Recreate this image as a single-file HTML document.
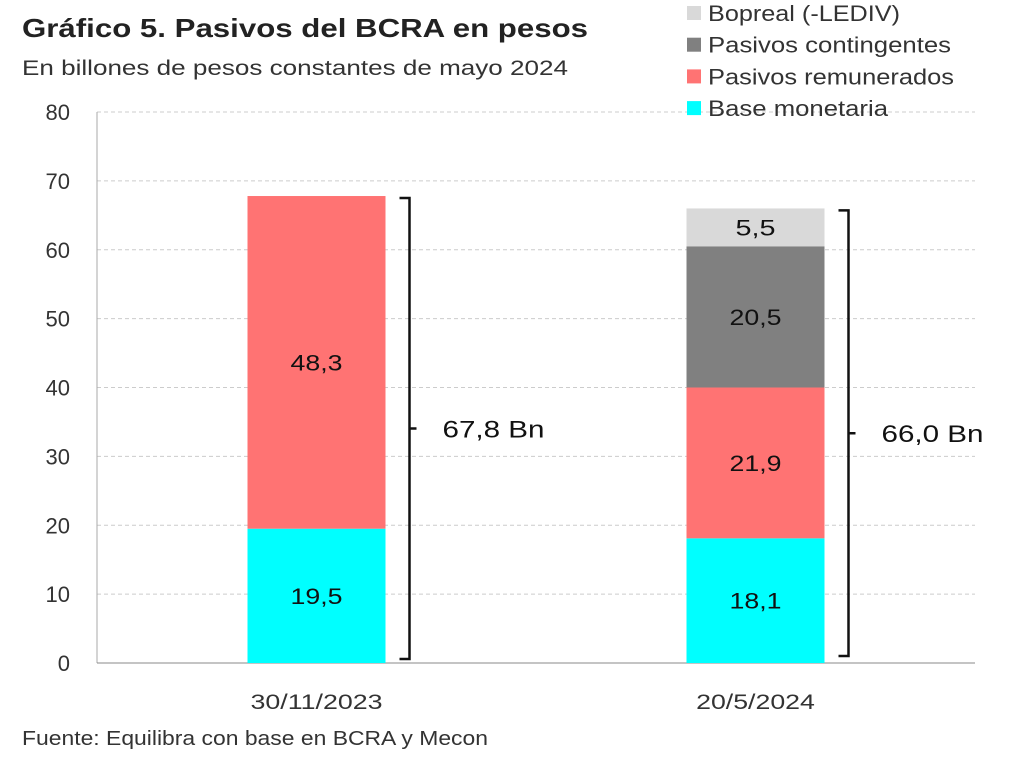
<!DOCTYPE html>
<html><head><meta charset="utf-8"><style>
body{margin:0;background:#fff;font-family:"Liberation Sans",sans-serif}
</style></head><body>
<svg id="c" width="1022" height="775" style="display:block">
<text x="22" y="37" font-size="26" font-weight="bold" fill="#222" textLength="566" lengthAdjust="spacingAndGlyphs">Gráfico 5. Pasivos del BCRA en pesos</text>
<text x="22" y="75" font-size="21" fill="#333" textLength="546" lengthAdjust="spacingAndGlyphs">En billones de pesos constantes de mayo 2024</text>
<text x="22" y="745" font-size="20" fill="#333" textLength="466" lengthAdjust="spacingAndGlyphs">Fuente: Equilibra con base en BCRA y Mecon</text>
<g id="grid"></g><g id="bars"></g><g id="legend"></g>
</svg>
<script>
const categories=["30/11/2023","20/5/2024"];
const seriesNames=["Base monetaria","Pasivos remunerados","Pasivos contingentes","Bopreal (-LEDIV)"];
const baseMonetaria=[19.5,18.1];
const pasivosRemunerados=[48.3,21.9];
const pasivosContingentes=[0,20.5];
const bopreal=[0,5.5];
const totals=["67,8 Bn","66,0 Bn"];
const yTicks=[0,10,20,30,40,50,60,70,80];
const colors=["#00ffff","#ff7373","#808080","#d9d9d9"];
const NS="http://www.w3.org/2000/svg";
const y0=663,y1=112,x0=97,x1=975;
const y=v=>y0-(v/80)*(y0-y1);
const bandW=(x1-x0)/categories.length;
const xc=i=>x0+bandW*(i+0.5);
const barW=138;
function mk(t,a,p){const e=document.createElementNS(NS,t);for(const k in a)e.setAttribute(k,a[k]);p.appendChild(e);return e;}
const grid=document.getElementById('grid');
yTicks.forEach(t=>{
 if(t>0){const l=mk('line',{x1:x0,x2:x1,y1:y(t),y2:y(t),stroke:'#ccc','stroke-dasharray':'4,3'},grid);
 
 }
 const tx=mk('text',{x:70,y:y(t)+8,'font-size':22,'text-anchor':'end',fill:'#333'},grid);tx.textContent=t;
 
 
});
const ax=mk('line',{x1:x0,x2:x0,y1:y1,y2:y0,stroke:'#aaa'},grid);


const bx=mk('line',{x1:x0,x2:x1,y1:y0,y2:y0,stroke:'#888'},grid);


const bars=document.getElementById('bars');
const series=[baseMonetaria,pasivosRemunerados,pasivosContingentes,bopreal];
categories.forEach((c,i)=>{
 let cum=0;
 series.forEach((s,k)=>{
  const v=s[i];if(!v)return;
  const r=mk('rect',{x:xc(i)-barW/2,y:y(cum+v),width:barW,height:y(cum)-y(cum+v),fill:colors[k]},bars);
  
  
  const t=mk('text',{x:xc(i),y:(y(cum)+y(cum+v))/2+8,'font-size':22,'text-anchor':'middle',fill:'#111',textLength:52,lengthAdjust:'spacingAndGlyphs'},bars);
  t.textContent=v.toFixed(1).replace('.',',');
  if(t.textContent.length<4)t.setAttribute('textLength',40);
  
  
  cum+=v;
 });
 const xl=mk('text',{x:xc(i),y:709,'font-size':21,'text-anchor':'middle',fill:'#333',textLength:c.length*13.2,lengthAdjust:'spacingAndGlyphs'},bars);xl.textContent=c;
 
 
 const bxp=xc(i)+barW/2+24, top=y(cum)+2, bot=y0-4-i*3, mid=(top+bot)/2;
 const br=mk('path',{d:`M${bxp-10},${top} H${bxp} V${bot} H${bxp-10} M${bxp},${mid} H${bxp+7}`,fill:'none',stroke:'#111','stroke-width':2.5},bars);
 
 
 const tl=mk('text',{x:bxp+33,y:mid+9,'font-size':24,fill:'#111',textLength:102,lengthAdjust:'spacingAndGlyphs'},bars);tl.textContent=totals[i];
 
 
});
const lg=document.getElementById('legend');
const legendLen={3:192,2:243,1:246,0:180};
[3,2,1,0].forEach((k,j)=>{
 const cy=13+j*31.7;
 const r=mk('rect',{x:687,y:cy-7,width:14,height:14,fill:colors[k]},lg);
 
 
 const t=mk('text',{x:708,y:cy+8,'font-size':22,fill:'#333',textLength:legendLen[k],lengthAdjust:'spacingAndGlyphs'},lg);t.textContent=seriesNames[k];
 
 
});
</script>
</body></html>
